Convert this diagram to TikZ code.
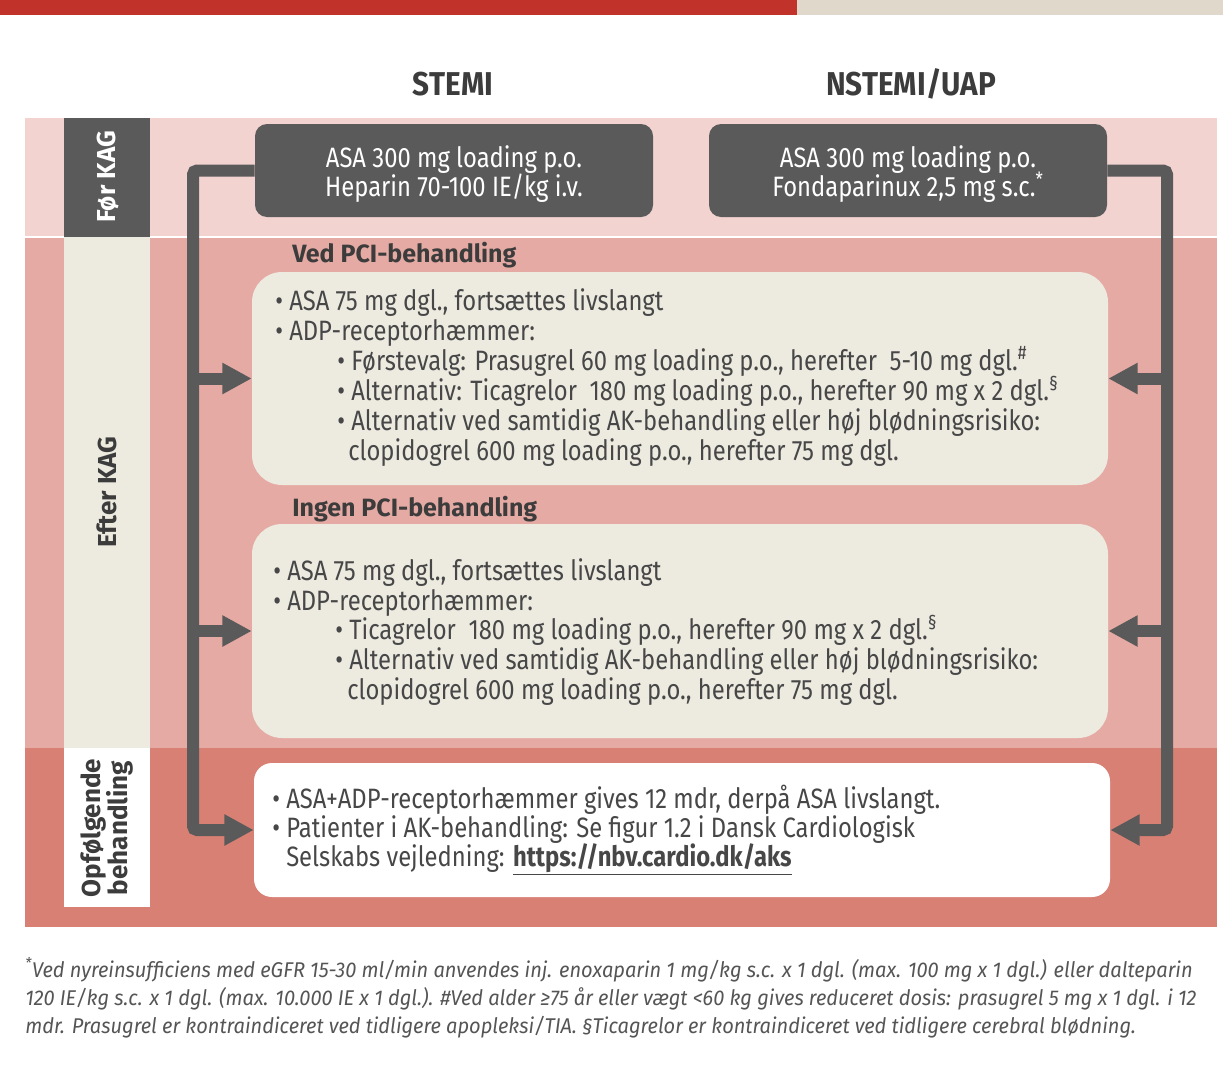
\documentclass[tikz,border=0pt]{standalone}
\usepackage{fontspec}
\setmainfont{Fira Sans}[FakeStretch=0.85]
\newfontfamily\headfont{Fira Sans}[FakeStretch=0.9]
\newfontfamily\labelfont{Fira Sans}
\newfontfamily\notefont{Fira Sans}[FakeStretch=0.94]
\usetikzlibrary{arrows.meta}

\definecolor{barred}{HTML}{C1332A}
\definecolor{barbeige}{HTML}{E0D8CB}
\definecolor{bandA}{HTML}{F2D3D0}
\definecolor{bandB}{HTML}{E5AAA3}
\definecolor{bandC}{HTML}{D98074}
\definecolor{boxdark}{HTML}{5A5A5A}
\definecolor{boxbeige}{HTML}{EDEAE0}
\definecolor{ink}{HTML}{474747}
\definecolor{headink}{HTML}{3C3C3C}
\definecolor{noteink}{HTML}{555555}

\begin{document}
\begin{tikzpicture}[x=0.75pt,y=-0.75pt,
  line/.style={font=\fontsize{21}{25}\selectfont, text=ink, inner sep=0pt, anchor=base west},
  subhead/.style={font=\labelfont\bfseries\fontsize{18.75}{22}\selectfont, text=headink, inner sep=0pt, anchor=base west},
  colhead/.style={font=\headfont\bfseries\fontsize{24.75}{28}\selectfont, text=headink, inner sep=0pt, anchor=base},
  sidelabel/.style={font=\labelfont\bfseries\fontsize{19.5}{20.5}\selectfont, inner sep=0pt, rotate=90, align=center},
  darkbox/.style={fill=boxdark, rounded corners=9pt, minimum width=298.5pt, minimum height=69.75pt, inner sep=0pt},
  boxtext/.style={text=white, align=center, font=\fontsize{21}{21.75}\selectfont, inner sep=0pt, yshift=-2.5pt},
  softbox/.style={fill=boxbeige, rounded corners=22.5pt, minimum width=642pt, inner sep=0pt},
  whitebox/.style={fill=white, rounded corners=13.5pt, minimum width=642pt, minimum height=100.5pt, inner sep=0pt},
  note/.style={font=\notefont\itshape\fontsize{16}{21}\selectfont, text=noteink, inner sep=0pt, anchor=base west},
  conn/.style={draw=boxdark, line width=9pt, rounded corners=3pt, -{Triangle[length=22pt,width=22pt]}}
]
\useasboundingbox (0,0) rectangle (1223,1071);

% top colour bar
\fill[barred] (0,0) rectangle (797,15);
\fill[barbeige] (797,0) rectangle (1223,15);

% column headings
\node[colhead] (hstemi) at (453,95) {STEMI};
\node[colhead] (hnstemi) at (911,95) {NSTEMI/UAP};

% phase bands
\fill[bandA] (25,118) rectangle (1217,237);
\fill[bandB] (25,237) rectangle (1217,748);
\fill[bandC] (25,748) rectangle (1217,927);
\draw[white, line width=1.1pt] (25,237) -- (1217,237);

% phase labels
\fill[boxdark] (64,118) rectangle (150,237);
\fill[boxbeige] (64,237) rectangle (150,748);
\fill[white] (64,748) rectangle (150,907);
\node[sidelabel, text=white] (lfoer) at (108,177) {Før KAG};
\node[sidelabel, text=headink] (lefter) at (107,492) {Efter KAG};
\node[sidelabel, text=headink] (lopf) at (107,828) {Opfølgende\\behandling};

% initial treatment
\node[darkbox, label={[boxtext]center:{ASA 300 mg loading p.o.\\Heparin 70-100 IE/kg i.v.}}] (stemi) at (454,170.5) {};
\node[darkbox, label={[boxtext]center:{ASA 300 mg loading p.o.\\Fondaparinux 2,5 mg s.c.\smash{\textsuperscript{*}}}}] (nstemi) at (908,170.5) {};

% treatment boxes
\node[softbox, minimum height=159.75pt] (pci) at (680,378.5) {};
\node[softbox, minimum height=160.5pt] (nopci) at (680,631) {};
\node[whitebox] (follow) at (682,830) {};

% connectors
\coordinate (lx) at (193,0);
\coordinate (rx) at (1167,0);
\draw[conn] (stemi.west) -- (stemi.west -| lx) |- (follow.west);
\draw[conn] (pci.west -| lx) -- (pci.west);
\draw[conn] (nopci.west -| lx) -- (nopci.west);
\draw[conn] (nstemi.east) -- (nstemi.east -| rx) |- (follow.east);
\draw[conn] (pci.east -| rx) -- (pci.east);
\draw[conn] (nopci.east -| rx) -- (nopci.east);

% PCI
\node[subhead] (tpci) at (292,262) {Ved PCI-behandling};
\node[line] (a1) at (275,310) {• ASA 75 mg dgl., fortsættes livslangt};
\node[line] (a2) at (275,340) {• ADP-receptorhæmmer:};
\node[line] (a3) at (337,370) {• Førstevalg: Prasugrel 60 mg loading p.o., herefter\ \ 5-10 mg dgl.\textsuperscript{\#}};
\node[line] (a4) at (337,400) {• Alternativ: Ticagrelor\ \ 180 mg loading p.o., herefter 90 mg x 2 dgl.\textsuperscript{§}};
\node[line] (a5) at (337,430) {• Alternativ ved samtidig AK-behandling eller høj blødningsrisiko:};
\node[line] (a6) at (348,460) {clopidogrel 600 mg loading p.o., herefter 75 mg dgl.};

% no PCI
\node[subhead] (tnopci) at (292,516) {Ingen PCI-behandling};
\node[line] (b1) at (273,580) {• ASA 75 mg dgl., fortsættes livslangt};
\node[line] (b2) at (273,610) {• ADP-receptorhæmmer:};
\node[line] (b3) at (335,639) {• Ticagrelor\ \ 180 mg loading p.o., herefter 90 mg x 2 dgl.\textsuperscript{§}};
\node[line] (b4) at (335,669) {• Alternativ ved samtidig AK-behandling eller høj blødningsrisiko:};
\node[line] (b5) at (347,699) {clopidogrel 600 mg loading p.o., herefter 75 mg dgl.};

% follow-up
\node[line] (c1) at (272,808) {• ASA+ADP-receptorhæmmer gives 12 mdr, derpå ASA livslangt.};
\node[line] (c2) at (272,837) {• Patienter i AK-behandling: Se figur 1.2 i Dansk Cardiologisk};
\node[line] (c3) at (286,866) {Selskabs vejledning: \underline{\textbf{https://nbv.cardio.dk/aks}}};

% footnotes
\node[note] (f1) at (25,977) {\textsuperscript{*}Ved nyreinsufficiens med eGFR 15-30 ml/min anvendes inj. enoxaparin 1 mg/kg s.c. x 1 dgl. (max. 100 mg x 1 dgl.) eller dalteparin};
\node[note] (f2) at (25,1005) {120 IE/kg s.c. x 1 dgl. (max. 10.000 IE x 1 dgl.). \#Ved alder ≥75 år eller vægt <60 kg gives reduceret dosis: prasugrel 5 mg x 1 dgl. i 12};
\node[note] (f3) at (25,1033) {mdr. Prasugrel er kontraindiceret ved tidligere apopleksi/TIA. §Ticagrelor er kontraindiceret ved tidligere cerebral blødning.};
\end{tikzpicture}
\end{document}
